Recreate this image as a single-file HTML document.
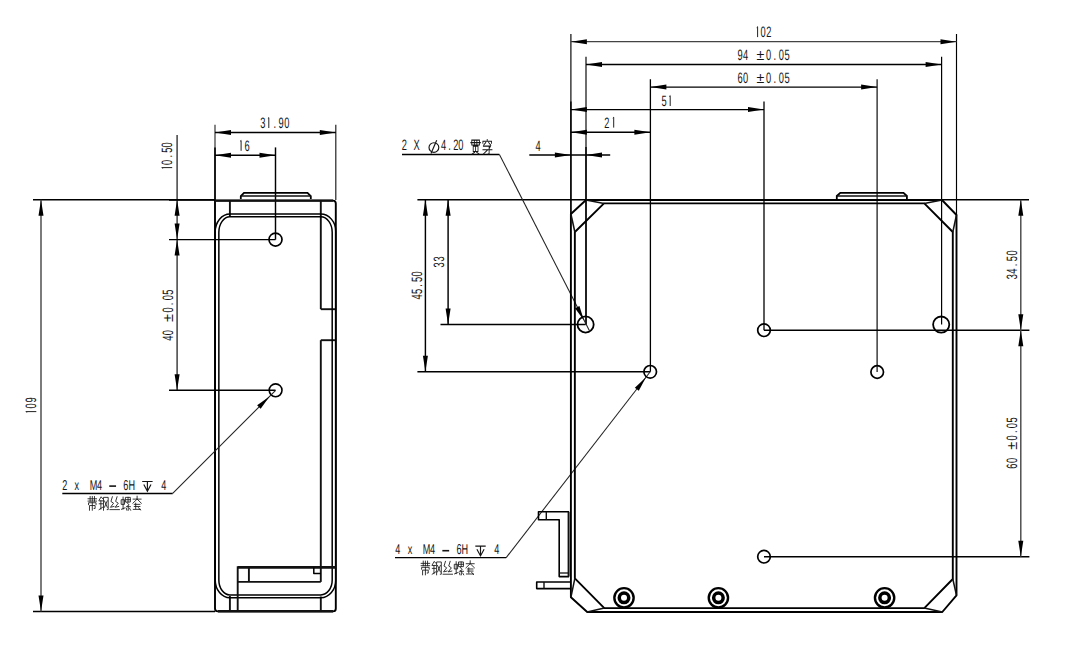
<!DOCTYPE html>
<html><head><meta charset="utf-8"><style>
html,body{margin:0;padding:0;background:#fff;overflow:hidden;}
svg{display:block;}
text{font-family:"Liberation Sans",sans-serif;text-rendering:geometricPrecision;}
</style></head><body>
<svg width="1074" height="666" viewBox="0 0 1074 666">
<rect width="1074" height="666" fill="#fff"/>
<line x1="33" y1="199.8" x2="215" y2="199.8" stroke="#000" stroke-width="1.45"/>
<line x1="33" y1="611.5" x2="215" y2="611.5" stroke="#000" stroke-width="1.45"/>
<line x1="41" y1="199.8" x2="41" y2="611.5" stroke="#444" stroke-width="1.4"/>
<polygon points="41.00,199.80 43.50,215.80 38.50,215.80" fill="#000"/>
<polygon points="41.00,611.50 38.50,595.50 43.50,595.50" fill="#000"/>
<g transform="translate(36.3 411.8) rotate(-90)"><path d="M-0.70,-9.55 L0.20,-10.35 L0.20,0" stroke="#151515" stroke-width="0.95" fill="none"/><text transform="translate(6.00 0) scale(0.2325 0.3750)" font-size="40" text-anchor="middle" fill="#151515">0</text><text transform="translate(12.00 0) scale(0.2325 0.3750)" font-size="40" text-anchor="middle" fill="#151515">9</text></g>
<line x1="177.1" y1="135" x2="177.1" y2="390.2" stroke="#333" stroke-width="1.4"/>
<polygon points="177.10,199.80 179.60,215.80 174.60,215.80" fill="#000"/>
<polygon points="177.10,239.60 174.60,223.60 179.60,223.60" fill="#000"/>
<polygon points="177.10,239.60 179.60,255.60 174.60,255.60" fill="#000"/>
<polygon points="177.10,390.20 174.60,374.20 179.60,374.20" fill="#000"/>
<line x1="169" y1="199.9" x2="215" y2="199.9" stroke="#000" stroke-width="1.9"/>
<line x1="169" y1="239.6" x2="275.5" y2="239.6" stroke="#000" stroke-width="1.45"/>
<line x1="169" y1="390.2" x2="275.5" y2="390.2" stroke="#000" stroke-width="1.45"/>
<g transform="translate(172.2 167.8) rotate(-90)"><path d="M-0.70,-9.55 L0.20,-10.35 L0.20,0" stroke="#151515" stroke-width="0.95" fill="none"/><text transform="translate(5.46 0) scale(0.2325 0.3750)" font-size="40" text-anchor="middle" fill="#151515">0</text><text transform="translate(11.50 0) scale(0.2325 0.3750)" font-size="40" text-anchor="middle" fill="#151515">.</text><text transform="translate(17.54 0) scale(0.2325 0.3750)" font-size="40" text-anchor="middle" fill="#151515">5</text><text transform="translate(23.00 0) scale(0.2325 0.3750)" font-size="40" text-anchor="middle" fill="#151515">0</text></g>
<g transform="translate(172.5 338.2) rotate(-90)"><text transform="translate(0.00 0) scale(0.2325 0.3750)" font-size="40" text-anchor="middle" fill="#151515">4</text><text transform="translate(5.58 0) scale(0.2325 0.3750)" font-size="40" text-anchor="middle" fill="#151515">0</text><text transform="translate(20.16 0) scale(0.3562 0.3750)" font-size="40" text-anchor="middle" fill="#151515">±</text><text transform="translate(28.19 0) scale(0.2325 0.3750)" font-size="40" text-anchor="middle" fill="#151515">0</text><text transform="translate(34.35 0) scale(0.2325 0.3750)" font-size="40" text-anchor="middle" fill="#151515">.</text><text transform="translate(40.52 0) scale(0.2325 0.3750)" font-size="40" text-anchor="middle" fill="#151515">0</text><text transform="translate(46.10 0) scale(0.2325 0.3750)" font-size="40" text-anchor="middle" fill="#151515">5</text></g>
<line x1="215" y1="124.7" x2="215" y2="200" stroke="#222" stroke-width="1.1"/>
<line x1="335.8" y1="124.7" x2="335.8" y2="200" stroke="#222" stroke-width="1.2"/>
<line x1="215" y1="147.4" x2="215" y2="200" stroke="#000" stroke-width="1.6"/>
<line x1="215" y1="132.4" x2="335.8" y2="132.4" stroke="#000" stroke-width="1.45"/>
<polygon points="215.00,132.40 231.00,129.90 231.00,134.90" fill="#000"/>
<polygon points="335.80,132.40 319.80,134.90 319.80,129.90" fill="#000"/>
<g transform="translate(262.9 128)"><text transform="translate(0.00 0) scale(0.2325 0.3750)" font-size="40" text-anchor="middle" fill="#151515">3</text><path d="M5.00,-9.55 L5.90,-10.35 L5.90,0" stroke="#151515" stroke-width="0.95" fill="none"/><text transform="translate(12.00 0) scale(0.2325 0.3750)" font-size="40" text-anchor="middle" fill="#151515">.</text><text transform="translate(18.30 0) scale(0.2325 0.3750)" font-size="40" text-anchor="middle" fill="#151515">9</text><text transform="translate(24.00 0) scale(0.2325 0.3750)" font-size="40" text-anchor="middle" fill="#151515">0</text></g>
<line x1="215" y1="155.3" x2="275.5" y2="155.3" stroke="#000" stroke-width="1.45"/>
<polygon points="215.00,155.30 231.00,152.80 231.00,157.80" fill="#000"/>
<polygon points="275.50,155.30 259.50,157.80 259.50,152.80" fill="#000"/>
<line x1="275.5" y1="147.4" x2="275.5" y2="239.6" stroke="#000" stroke-width="1.45"/>
<g transform="translate(240.9 150.8)"><path d="M-0.70,-9.55 L0.20,-10.35 L0.20,0" stroke="#151515" stroke-width="0.95" fill="none"/><text transform="translate(6.30 0) scale(0.2325 0.3750)" font-size="40" text-anchor="middle" fill="#151515">6</text></g>
<path d="M215,200.6 L333,200.6 Q335.8,200.6 335.8,203.5 L335.8,608.5 Q335.8,611.4 333,611.4 L218,611.4 Q215,611.4 215,608.5 Z" stroke="#000" stroke-width="1.9" fill="none" stroke-linejoin="round"/>
<line x1="215" y1="200.6" x2="333" y2="200.6" stroke="#111" stroke-width="2.4"/>
<line x1="218" y1="611.3" x2="333" y2="611.3" stroke="#111" stroke-width="2.5"/>
<path d="M240.8,199 L240.8,196.2 L244,192.8 L307.5,192.8 L310.8,196.2 L310.8,199" stroke="#000" stroke-width="1.8" fill="none" stroke-linejoin="miter"/>
<line x1="240.8" y1="196" x2="310.8" y2="196" stroke="#111" stroke-width="1.7"/>
<line x1="229.9" y1="200.5" x2="229.9" y2="217" stroke="#111" stroke-width="1.9"/>
<line x1="229.9" y1="596" x2="229.9" y2="611.4" stroke="#111" stroke-width="1.9"/>
<line x1="320.8" y1="200.5" x2="320.8" y2="309.2" stroke="#111" stroke-width="1.9"/>
<line x1="320.8" y1="309.2" x2="335.8" y2="309.2" stroke="#111" stroke-width="1.9"/>
<line x1="320.8" y1="340.2" x2="335.8" y2="340.2" stroke="#111" stroke-width="1.9"/>
<line x1="320.8" y1="340.2" x2="320.8" y2="581.9" stroke="#111" stroke-width="1.9"/>
<line x1="320.8" y1="596.5" x2="320.8" y2="611.4" stroke="#111" stroke-width="1.9"/>
<path d="M215.2,232 A14.7,18 0 0 1 229.9,214 L320.8,214 A15,17.5 0 0 1 335.8,231.5 L335.8,580 A15,17.8 0 0 1 320.8,597.8 L229.9,597.8 A14.7,17.8 0 0 1 215.2,580 Z" stroke="#000" stroke-width="1.5" fill="none" stroke-linejoin="round"/>
<path d="M218.85,232.3 A11.05,15.5 0 0 1 229.9,216.8 L320.8,216.8 A11.4,15.5 0 0 1 332.2,232.3 L332.2,580 A11.4,14.9 0 0 1 320.8,594.9 L229.9,594.9 A11.05,14.9 0 0 1 218.85,580 Z" stroke="#000" stroke-width="1.5" fill="none" stroke-linejoin="round"/>
<line x1="237.7" y1="566.3" x2="237.7" y2="611.4" stroke="#111" stroke-width="1.9"/>
<line x1="237.7" y1="567.3" x2="335.8" y2="567.3" stroke="#111" stroke-width="2.8"/>
<line x1="248.9" y1="567" x2="248.9" y2="581.9" stroke="#111" stroke-width="1.9"/>
<line x1="237.7" y1="581.9" x2="320.8" y2="581.9" stroke="#111" stroke-width="1.9"/>
<path d="M313.8,567.5 L313.8,573.4 L320.8,573.4" stroke="#000" stroke-width="1.5" fill="none" stroke-linejoin="round"/>
<circle cx="275.5" cy="239.6" r="6.5" stroke="#000" stroke-width="1.7" fill="none"/>
<circle cx="275.6" cy="390.3" r="6.4" stroke="#000" stroke-width="1.6" fill="none"/>
<line x1="275.6" y1="390.3" x2="172.7" y2="493.4" stroke="#222" stroke-width="1.05"/>
<polygon points="269.50,396.40 260.66,408.77 257.13,405.24" fill="#000"/>
<line x1="62.3" y1="493.4" x2="172.7" y2="493.4" stroke="#000" stroke-width="1.45"/>
<g transform="translate(64.7 489.6)"><text transform="translate(0.00 0) scale(0.2272 0.3550)" font-size="40" text-anchor="middle" fill="#151515">2</text><text transform="translate(12.15 0) scale(0.2272 0.3550)" font-size="40" text-anchor="middle" fill="#151515">x</text><text transform="translate(28.80 0) scale(0.2272 0.3550)" font-size="40" text-anchor="middle" fill="#151515">M</text><text transform="translate(34.80 0) scale(0.2272 0.3550)" font-size="40" text-anchor="middle" fill="#151515">4</text><text transform="translate(61.20 0) scale(0.2272 0.3550)" font-size="40" text-anchor="middle" fill="#151515">6</text><text transform="translate(67.05 0) scale(0.2272 0.3550)" font-size="40" text-anchor="middle" fill="#151515">H</text><text transform="translate(99.05 0) scale(0.2272 0.3550)" font-size="40" text-anchor="middle" fill="#151515">4</text></g>
<line x1="109.25" y1="486.1" x2="116.05000000000001" y2="486.1" stroke="#151515" stroke-width="1.6"/>
<path d="M142.20,481.50 L152.60,481.50 M147.40,481.50 L147.40,491.30 M143.80,484.60 L147.40,491.30 L151.00,484.60" stroke="#151515" stroke-width="1.15" fill="none"/>
<path transform="translate(87.60 496.20) scale(0.940 1.167)" d="M0.5,2.2 L9.5,2.2 M2.7,0.3 L2.7,4.2 M5,0.3 L5,4.2 M7.3,0.3 L7.3,4.2 M0.5,4.2 L9.5,4.2 M1,7.2 L1,5.6 L9,5.6 L9,7.2 M2,12 L2,8 L8,8 L8,10.5 L7,10.5 M5,5.6 L5,12" stroke="#151515" stroke-width="0.807" fill="none" stroke-linecap="square"/><path transform="translate(98.80 496.20) scale(0.940 1.167)" d="M0.3,3.5 L2.5,0.5 L4,2 M0.5,4 L4,4 M0.5,6.5 L4,6.5 M2.2,4 L2.2,11 M0.3,11.5 L4,9.5 M5,12 L5,1 L10,1 L10,11.5 L9,11.5 M6,4 L9,9.5 M9,4 L6,9.5" stroke="#151515" stroke-width="0.807" fill="none" stroke-linecap="square"/><path transform="translate(110.00 496.20) scale(0.940 1.167)" d="M2.5,0.5 L1,4.5 L3.8,6 L0.5,9.5 L4.2,8.8 M7.5,0.5 L6,4.5 L8.8,6 L5.5,9.5 L9.2,8.8 M0,11.5 L10,11.5" stroke="#151515" stroke-width="0.807" fill="none" stroke-linecap="square"/><path transform="translate(121.20 496.20) scale(0.940 1.167)" d="M0.5,3 L3.5,3 L3.5,7 L0.5,7 Z M2,0.8 L2,11 M0.3,11.2 L4,10 M5,1 L9.7,1 L9.7,5 L5,5 Z M5,3 L9.7,3 M7.3,1 L7.3,5 M6.2,5.5 L8.4,7.5 L5.5,9 L9.8,9 M7.5,9 L7.5,12 M6,12 L5.5,10.5 M9,10.5 L10,12" stroke="#151515" stroke-width="0.807" fill="none" stroke-linecap="square"/><path transform="translate(132.40 496.20) scale(0.940 1.167)" d="M0.8,2.5 L9.2,2.5 M5,0 L5,2.5 L0.5,6 M5,2.5 L9.5,6 M2,7 L8,7 M2,8.8 L8,8.8 M3.5,6 L3.5,10.5 M1,11.3 L8.5,11.3 M6.5,9.8 L8.5,11.8" stroke="#151515" stroke-width="0.807" fill="none" stroke-linecap="square"/>
<line x1="570.9" y1="34" x2="570.9" y2="214" stroke="#000" stroke-width="1.15"/>
<line x1="956.5" y1="34" x2="956.5" y2="215" stroke="#000" stroke-width="1.15"/>
<line x1="586" y1="56.8" x2="586" y2="324.5" stroke="#000" stroke-width="1.15"/>
<line x1="941.6" y1="56.8" x2="941.6" y2="324.6" stroke="#000" stroke-width="1.2"/>
<line x1="650.4" y1="79.2" x2="650.4" y2="371.8" stroke="#000" stroke-width="1.3"/>
<line x1="877.1" y1="79.2" x2="877.1" y2="372" stroke="#000" stroke-width="1.15"/>
<line x1="764" y1="101.5" x2="764" y2="330.2" stroke="#000" stroke-width="1.3"/>
<line x1="570.9" y1="101.5" x2="570.9" y2="214" stroke="#000" stroke-width="1.4"/>
<line x1="586" y1="147" x2="586" y2="324.5" stroke="#000" stroke-width="1.4"/>
<line x1="417.4" y1="199.8" x2="586" y2="199.8" stroke="#000" stroke-width="1.45"/>
<line x1="942" y1="199.7" x2="1029" y2="199.7" stroke="#000" stroke-width="1.45"/>
<line x1="440.5" y1="324.4" x2="585.6" y2="324.4" stroke="#000" stroke-width="1.45"/>
<line x1="417.4" y1="371.8" x2="650.2" y2="371.8" stroke="#000" stroke-width="1.45"/>
<line x1="764" y1="330.2" x2="1029.4" y2="330.2" stroke="#000" stroke-width="1.45"/>
<line x1="764" y1="556.8" x2="1029.4" y2="556.8" stroke="#000" stroke-width="1.45"/>
<line x1="570.9" y1="41.7" x2="956.5" y2="41.7" stroke="#444" stroke-width="1.3"/>
<polygon points="570.90,41.70 586.90,39.20 586.90,44.20" fill="#000"/>
<polygon points="956.50,41.70 940.50,44.20 940.50,39.20" fill="#000"/>
<g transform="translate(757.4 37.1)"><path d="M-0.70,-9.55 L0.20,-10.35 L0.20,0" stroke="#151515" stroke-width="0.95" fill="none"/><text transform="translate(5.75 0) scale(0.2325 0.3750)" font-size="40" text-anchor="middle" fill="#151515">0</text><text transform="translate(11.50 0) scale(0.2325 0.3750)" font-size="40" text-anchor="middle" fill="#151515">2</text></g>
<line x1="586" y1="64.5" x2="941.6" y2="64.5" stroke="#000" stroke-width="1.45"/>
<polygon points="586.00,64.50 602.00,62.00 602.00,67.00" fill="#000"/>
<polygon points="941.60,64.50 925.60,67.00 925.60,62.00" fill="#000"/>
<g transform="translate(740 60)"><text transform="translate(0.00 0) scale(0.2325 0.3750)" font-size="40" text-anchor="middle" fill="#151515">9</text><text transform="translate(5.60 0) scale(0.2325 0.3750)" font-size="40" text-anchor="middle" fill="#151515">4</text><text transform="translate(20.50 0) scale(0.3562 0.3750)" font-size="40" text-anchor="middle" fill="#151515">±</text><text transform="translate(28.70 0) scale(0.2325 0.3750)" font-size="40" text-anchor="middle" fill="#151515">0</text><text transform="translate(34.80 0) scale(0.2325 0.3750)" font-size="40" text-anchor="middle" fill="#151515">.</text><text transform="translate(41.30 0) scale(0.2325 0.3750)" font-size="40" text-anchor="middle" fill="#151515">0</text><text transform="translate(47.10 0) scale(0.2325 0.3750)" font-size="40" text-anchor="middle" fill="#151515">5</text></g>
<line x1="650.4" y1="87.1" x2="877.1" y2="87.1" stroke="#000" stroke-width="1.45"/>
<polygon points="650.40,87.10 666.40,84.60 666.40,89.60" fill="#000"/>
<polygon points="877.10,87.10 861.10,89.60 861.10,84.60" fill="#000"/>
<g transform="translate(740 83)"><text transform="translate(0.00 0) scale(0.2325 0.3750)" font-size="40" text-anchor="middle" fill="#151515">6</text><text transform="translate(5.60 0) scale(0.2325 0.3750)" font-size="40" text-anchor="middle" fill="#151515">0</text><text transform="translate(20.50 0) scale(0.3562 0.3750)" font-size="40" text-anchor="middle" fill="#151515">±</text><text transform="translate(28.70 0) scale(0.2325 0.3750)" font-size="40" text-anchor="middle" fill="#151515">0</text><text transform="translate(34.80 0) scale(0.2325 0.3750)" font-size="40" text-anchor="middle" fill="#151515">.</text><text transform="translate(41.30 0) scale(0.2325 0.3750)" font-size="40" text-anchor="middle" fill="#151515">0</text><text transform="translate(47.10 0) scale(0.2325 0.3750)" font-size="40" text-anchor="middle" fill="#151515">5</text></g>
<line x1="570.9" y1="109.6" x2="764" y2="109.6" stroke="#000" stroke-width="1.45"/>
<polygon points="570.90,109.60 586.90,107.10 586.90,112.10" fill="#000"/>
<polygon points="764.00,109.60 748.00,112.10 748.00,107.10" fill="#000"/>
<g transform="translate(664.1 106)"><text transform="translate(0.00 0) scale(0.2325 0.3750)" font-size="40" text-anchor="middle" fill="#151515">5</text><path d="M5.20,-9.55 L6.10,-10.35 L6.10,0" stroke="#151515" stroke-width="0.95" fill="none"/></g>
<line x1="570.9" y1="132.3" x2="650.4" y2="132.3" stroke="#000" stroke-width="1.45"/>
<polygon points="570.90,132.30 586.90,129.80 586.90,134.80" fill="#000"/>
<polygon points="650.40,132.30 634.40,134.80 634.40,129.80" fill="#000"/>
<g transform="translate(606.8 127.6)"><text transform="translate(0.00 0) scale(0.2325 0.3750)" font-size="40" text-anchor="middle" fill="#151515">2</text><path d="M6.00,-9.55 L6.90,-10.35 L6.90,0" stroke="#151515" stroke-width="0.95" fill="none"/></g>
<line x1="529.3" y1="155" x2="610.2" y2="155" stroke="#000" stroke-width="1.45"/>
<polygon points="570.90,155.00 554.90,157.50 554.90,152.50" fill="#000"/>
<polygon points="586.00,155.00 602.00,152.50 602.00,157.50" fill="#000"/>
<g transform="translate(538 150.7)"><text transform="translate(0.00 0) scale(0.2325 0.3750)" font-size="40" text-anchor="middle" fill="#151515">4</text></g>
<line x1="1020.8" y1="199.7" x2="1020.8" y2="556.8" stroke="#444" stroke-width="1.4"/>
<polygon points="1020.80,199.70 1023.30,215.70 1018.30,215.70" fill="#000"/>
<polygon points="1020.80,330.20 1018.30,314.20 1023.30,314.20" fill="#000"/>
<polygon points="1020.80,330.20 1023.30,346.20 1018.30,346.20" fill="#000"/>
<polygon points="1020.80,556.80 1018.30,540.80 1023.30,540.80" fill="#000"/>
<g transform="translate(1016.6 276.7) rotate(-90)"><text transform="translate(0.00 0) scale(0.2325 0.3750)" font-size="40" text-anchor="middle" fill="#151515">3</text><text transform="translate(5.63 0) scale(0.2325 0.3750)" font-size="40" text-anchor="middle" fill="#151515">4</text><text transform="translate(11.85 0) scale(0.2325 0.3750)" font-size="40" text-anchor="middle" fill="#151515">.</text><text transform="translate(18.07 0) scale(0.2325 0.3750)" font-size="40" text-anchor="middle" fill="#151515">5</text><text transform="translate(23.70 0) scale(0.2325 0.3750)" font-size="40" text-anchor="middle" fill="#151515">0</text></g>
<g transform="translate(1016.5 466.1) rotate(-90)"><text transform="translate(0.00 0) scale(0.2325 0.3750)" font-size="40" text-anchor="middle" fill="#151515">6</text><text transform="translate(5.58 0) scale(0.2325 0.3750)" font-size="40" text-anchor="middle" fill="#151515">0</text><text transform="translate(20.16 0) scale(0.3562 0.3750)" font-size="40" text-anchor="middle" fill="#151515">±</text><text transform="translate(28.19 0) scale(0.2325 0.3750)" font-size="40" text-anchor="middle" fill="#151515">0</text><text transform="translate(34.35 0) scale(0.2325 0.3750)" font-size="40" text-anchor="middle" fill="#151515">.</text><text transform="translate(40.52 0) scale(0.2325 0.3750)" font-size="40" text-anchor="middle" fill="#151515">0</text><text transform="translate(46.10 0) scale(0.2325 0.3750)" font-size="40" text-anchor="middle" fill="#151515">5</text></g>
<line x1="425.4" y1="199.8" x2="425.4" y2="371.8" stroke="#000" stroke-width="1.45"/>
<polygon points="425.40,199.80 427.90,215.80 422.90,215.80" fill="#000"/>
<polygon points="425.40,371.80 422.90,355.80 427.90,355.80" fill="#000"/>
<line x1="448.1" y1="199.8" x2="448.1" y2="324.4" stroke="#000" stroke-width="1.45"/>
<polygon points="448.10,199.80 450.60,215.80 445.60,215.80" fill="#000"/>
<polygon points="448.10,324.40 445.60,308.40 450.60,308.40" fill="#000"/>
<g transform="translate(421.7 296.8) rotate(-90)"><text transform="translate(0.00 0) scale(0.2325 0.3750)" font-size="40" text-anchor="middle" fill="#151515">4</text><text transform="translate(5.44 0) scale(0.2325 0.3750)" font-size="40" text-anchor="middle" fill="#151515">5</text><text transform="translate(11.45 0) scale(0.2325 0.3750)" font-size="40" text-anchor="middle" fill="#151515">.</text><text transform="translate(17.46 0) scale(0.2325 0.3750)" font-size="40" text-anchor="middle" fill="#151515">5</text><text transform="translate(22.90 0) scale(0.2325 0.3750)" font-size="40" text-anchor="middle" fill="#151515">0</text></g>
<g transform="translate(443.7 264.9) rotate(-90)"><text transform="translate(0.00 0) scale(0.2325 0.3750)" font-size="40" text-anchor="middle" fill="#151515">3</text><text transform="translate(5.90 0) scale(0.2325 0.3750)" font-size="40" text-anchor="middle" fill="#151515">3</text></g>
<line x1="402" y1="154.4" x2="499.4" y2="154.4" stroke="#000" stroke-width="1.45"/>
<line x1="499.4" y1="154.4" x2="589.2" y2="330.3" stroke="#222" stroke-width="1.05"/>
<polygon points="584.00,320.50 575.00,308.24 579.46,305.99" fill="#000"/>
<g transform="translate(404.4 150.3)"><text transform="translate(0.00 0) scale(0.2325 0.3750)" font-size="40" text-anchor="middle" fill="#151515">2</text><text transform="translate(12.30 0) scale(0.2325 0.3750)" font-size="40" text-anchor="middle" fill="#151515">X</text></g>
<g transform="translate(443.6 150.3)"><text transform="translate(0.00 0) scale(0.2325 0.3750)" font-size="40" text-anchor="middle" fill="#151515">4</text><text transform="translate(5.90 0) scale(0.2325 0.3750)" font-size="40" text-anchor="middle" fill="#151515">.</text><text transform="translate(12.30 0) scale(0.2325 0.3750)" font-size="40" text-anchor="middle" fill="#151515">2</text><text transform="translate(17.20 0) scale(0.2325 0.3750)" font-size="40" text-anchor="middle" fill="#151515">0</text></g>
<ellipse cx="433.9" cy="147.5" rx="4.9" ry="4.8" stroke="#151515" stroke-width="1.15" fill="none"/>
<line x1="431" y1="153.4" x2="436.7" y2="140.3" stroke="#151515" stroke-width="1.15"/>
<path transform="translate(470.80 139.50) scale(0.960 1.208)" d="M1,0.5 L9,0.5 L9,4.5 L1,4.5 Z M3.7,0.5 L3.7,4.5 M6.3,0.5 L6.3,4.5 M0,2.6 L10,2.6 M2.5,5.5 L7.5,5.5 L7.5,10 L2.5,10 Z M5,5.5 L5,10 M4,10.5 L1.5,12 M6,10.5 L8.5,12" stroke="#151515" stroke-width="0.876" fill="none" stroke-linecap="square"/><path transform="translate(482.40 139.50) scale(0.960 1.208)" d="M5,0 L5,1.2 M0.5,3 L0.5,1.5 L9.5,1.5 L9.5,3 M3.5,2.5 L1.5,4.5 M6.5,2.5 L8.5,4.5 M1,5.5 L8.5,5.5 L7,7.5 M0.5,8.5 L10,8.5 M7,5.5 L7,12 L6,12 M5.5,8.5 L1,12" stroke="#151515" stroke-width="0.876" fill="none" stroke-linecap="square"/>
<line x1="650.2" y1="371.8" x2="506.2" y2="557.6" stroke="#222" stroke-width="1.05"/>
<polygon points="646.00,377.30 638.79,390.69 634.84,387.63" fill="#000"/>
<line x1="395" y1="557.6" x2="506.2" y2="557.6" stroke="#000" stroke-width="1.45"/>
<g transform="translate(397.8 554.2)"><text transform="translate(0.00 0) scale(0.2272 0.3550)" font-size="40" text-anchor="middle" fill="#151515">4</text><text transform="translate(12.15 0) scale(0.2272 0.3550)" font-size="40" text-anchor="middle" fill="#151515">x</text><text transform="translate(28.80 0) scale(0.2272 0.3550)" font-size="40" text-anchor="middle" fill="#151515">M</text><text transform="translate(34.80 0) scale(0.2272 0.3550)" font-size="40" text-anchor="middle" fill="#151515">4</text><text transform="translate(61.20 0) scale(0.2272 0.3550)" font-size="40" text-anchor="middle" fill="#151515">6</text><text transform="translate(67.05 0) scale(0.2272 0.3550)" font-size="40" text-anchor="middle" fill="#151515">H</text><text transform="translate(99.05 0) scale(0.2272 0.3550)" font-size="40" text-anchor="middle" fill="#151515">4</text></g>
<line x1="442.35" y1="550.7" x2="449.15" y2="550.7" stroke="#151515" stroke-width="1.6"/>
<path d="M475.30,546.10 L485.70,546.10 M480.50,546.10 L480.50,555.90 M476.90,549.20 L480.50,555.90 L484.10,549.20" stroke="#151515" stroke-width="1.15" fill="none"/>
<path transform="translate(420.70 560.80) scale(0.940 1.167)" d="M0.5,2.2 L9.5,2.2 M2.7,0.3 L2.7,4.2 M5,0.3 L5,4.2 M7.3,0.3 L7.3,4.2 M0.5,4.2 L9.5,4.2 M1,7.2 L1,5.6 L9,5.6 L9,7.2 M2,12 L2,8 L8,8 L8,10.5 L7,10.5 M5,5.6 L5,12" stroke="#151515" stroke-width="0.807" fill="none" stroke-linecap="square"/><path transform="translate(431.90 560.80) scale(0.940 1.167)" d="M0.3,3.5 L2.5,0.5 L4,2 M0.5,4 L4,4 M0.5,6.5 L4,6.5 M2.2,4 L2.2,11 M0.3,11.5 L4,9.5 M5,12 L5,1 L10,1 L10,11.5 L9,11.5 M6,4 L9,9.5 M9,4 L6,9.5" stroke="#151515" stroke-width="0.807" fill="none" stroke-linecap="square"/><path transform="translate(443.10 560.80) scale(0.940 1.167)" d="M2.5,0.5 L1,4.5 L3.8,6 L0.5,9.5 L4.2,8.8 M7.5,0.5 L6,4.5 L8.8,6 L5.5,9.5 L9.2,8.8 M0,11.5 L10,11.5" stroke="#151515" stroke-width="0.807" fill="none" stroke-linecap="square"/><path transform="translate(454.30 560.80) scale(0.940 1.167)" d="M0.5,3 L3.5,3 L3.5,7 L0.5,7 Z M2,0.8 L2,11 M0.3,11.2 L4,10 M5,1 L9.7,1 L9.7,5 L5,5 Z M5,3 L9.7,3 M7.3,1 L7.3,5 M6.2,5.5 L8.4,7.5 L5.5,9 L9.8,9 M7.5,9 L7.5,12 M6,12 L5.5,10.5 M9,10.5 L10,12" stroke="#151515" stroke-width="0.807" fill="none" stroke-linecap="square"/><path transform="translate(465.50 560.80) scale(0.940 1.167)" d="M0.8,2.5 L9.2,2.5 M5,0 L5,2.5 L0.5,6 M5,2.5 L9.5,6 M2,7 L8,7 M2,8.8 L8,8.8 M3.5,6 L3.5,10.5 M1,11.3 L8.5,11.3 M6.5,9.8 L8.5,11.8" stroke="#151515" stroke-width="0.807" fill="none" stroke-linecap="square"/>
<path d="M586,200 L942,200 L956.5,215 L956.5,595.3 L942.3,612 L587.2,612 L570.9,597.3 L570.9,214 Z" stroke="#000" stroke-width="1.9" fill="none" stroke-linejoin="round"/>
<path d="M604,203.4 L924.3,203.4 L952.8,232 L952.8,579 L924.3,608.1 L604.3,608.1 L574.85,578.4 L574.85,232 Z" stroke="#000" stroke-width="1.9" fill="none" stroke-linejoin="round"/>
<line x1="586" y1="200" x2="604" y2="203.4" stroke="#111" stroke-width="1.5"/>
<line x1="570.9" y1="214" x2="574.85" y2="232" stroke="#111" stroke-width="1.5"/>
<line x1="942" y1="200" x2="924.3" y2="203.4" stroke="#111" stroke-width="1.5"/>
<line x1="956.5" y1="215" x2="952.8" y2="232" stroke="#111" stroke-width="1.5"/>
<line x1="956.5" y1="595.3" x2="952.8" y2="579" stroke="#111" stroke-width="1.5"/>
<line x1="942.3" y1="612" x2="924.3" y2="608.1" stroke="#111" stroke-width="1.5"/>
<line x1="587.2" y1="612" x2="604.3" y2="608.1" stroke="#111" stroke-width="1.5"/>
<line x1="570.9" y1="597.3" x2="574.85" y2="578.4" stroke="#111" stroke-width="1.5"/>
<path d="M836.8,199.5 L836.8,196 L840.3,192.8 L903.5,192.8 L906.9,196 L906.9,199.5" stroke="#000" stroke-width="1.8" fill="none" stroke-linejoin="miter"/>
<line x1="836.8" y1="196" x2="906.9" y2="196" stroke="#111" stroke-width="1.7"/>
<circle cx="585.6" cy="324.5" r="8.1" stroke="#000" stroke-width="1.8" fill="none"/>
<circle cx="941.2" cy="324.6" r="8.1" stroke="#000" stroke-width="1.8" fill="none"/>
<circle cx="764" cy="330.2" r="6.3" stroke="#000" stroke-width="1.7" fill="none"/>
<circle cx="877.2" cy="372" r="6.3" stroke="#000" stroke-width="1.7" fill="none"/>
<circle cx="650.2" cy="371.8" r="6.3" stroke="#000" stroke-width="1.7" fill="none"/>
<circle cx="764" cy="556.7" r="6.3" stroke="#000" stroke-width="1.7" fill="none"/>
<circle cx="624.0" cy="597.8" r="9.65" stroke="#000" stroke-width="2.4" fill="none"/>
<circle cx="624.0" cy="597.8" r="4.75" stroke="#000" stroke-width="3.5" fill="none"/>
<circle cx="718.4" cy="597.8" r="9.65" stroke="#000" stroke-width="2.4" fill="none"/>
<circle cx="718.4" cy="597.8" r="4.75" stroke="#000" stroke-width="3.5" fill="none"/>
<circle cx="884.6" cy="597.8" r="9.65" stroke="#000" stroke-width="2.4" fill="none"/>
<circle cx="884.6" cy="597.8" r="4.75" stroke="#000" stroke-width="3.5" fill="none"/>
<path d="M569,511.7 L538.5,511.7 L538.5,519.8 L559.2,519.8 L559.2,576.6 L569,576.6" stroke="#000" stroke-width="1.6" fill="none" stroke-linejoin="round"/>
<line x1="546.3" y1="511.7" x2="546.3" y2="519.8" stroke="#111" stroke-width="1.4"/>
<line x1="559.2" y1="573" x2="569" y2="573" stroke="#111" stroke-width="1.3"/>
<line x1="568.6" y1="511.7" x2="568.6" y2="576.6" stroke="#111" stroke-width="2.0"/>
<path d="M570,582 L536.7,582 L536.7,588.6 L570,588.6" stroke="#000" stroke-width="1.6" fill="none" stroke-linejoin="round"/>
<line x1="544" y1="582" x2="544" y2="588.6" stroke="#111" stroke-width="1.4"/>
</svg></body></html>
